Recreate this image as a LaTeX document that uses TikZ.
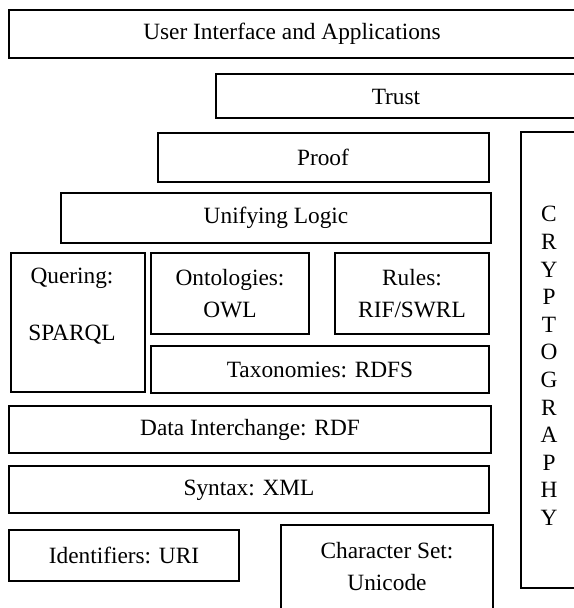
\documentclass[tikz,border=0pt]{standalone}
\usepackage{fontspec}
\setmainfont{Liberation Serif}
\begin{document}
\begin{tikzpicture}[x=0.75pt,y=-0.75pt,
  box/.style={draw=black,line width=1.5pt},
  txt/.style={inner sep=0pt,font=\fontsize{17.5}{24}\selectfont,align=center},
  crypto/.style={inner sep=0pt,font=\fontsize{17.5}{20.7}\selectfont,align=center}]
\useasboundingbox (0,0) rectangle (574,608);
\clip (0,0) rectangle (574,608);
% boxes
\draw[box] (9,10) rectangle (576,58);
\draw[box] (216,74) rectangle (576,118);
\draw[box] (158,133) rectangle (489,182);
\draw[box] (61,193) rectangle (491,243);
\draw[box] (11,253) rectangle (145,392);
\draw[box] (151,253) rectangle (309,334);
\draw[box] (335,253) rectangle (489,334);
\draw[box] (151,346) rectangle (489,393);
\draw[box] (9,406) rectangle (491,453);
\draw[box] (9,466) rectangle (489,513);
\draw[box] (9,530) rectangle (239,581);
\draw[box] (281,525) rectangle (493,620);
\draw[box] (521,132) rectangle (580,588);
% texts
\node[txt] (ui) at (292,34) {User Interface and Applications};
\node[txt] (trust) at (396,97) {Trust};
\node[txt] (proof) at (323,157) {Proof};
\node[txt] (logic) at (276,218) {Unifying Logic};
\node[txt] (query) at (72,306) {Quering:\\[19pt]SPARQL};
\node[txt] (onto) at (230,294) {Ontologies:\\OWL};
\node[txt] (rules) at (412,294) {Rules:\\RIF/SWRL};
\node[txt] (tax) at (320,370) {Taxonomies: RDFS};
\node[txt] (rdf) at (250,430) {Data Interchange: RDF};
\node[txt] (xml) at (249,490) {Syntax: XML};
\node[txt] (uri) at (124,555) {Identifiers: URI};
\node[txt] (uni) at (387,567) {Character Set:\\Unicode};
\node[crypto] (cry) at (549,366) {C\\R\\Y\\P\\T\\O\\G\\R\\A\\P\\H\\Y};
\end{tikzpicture}
\end{document}
